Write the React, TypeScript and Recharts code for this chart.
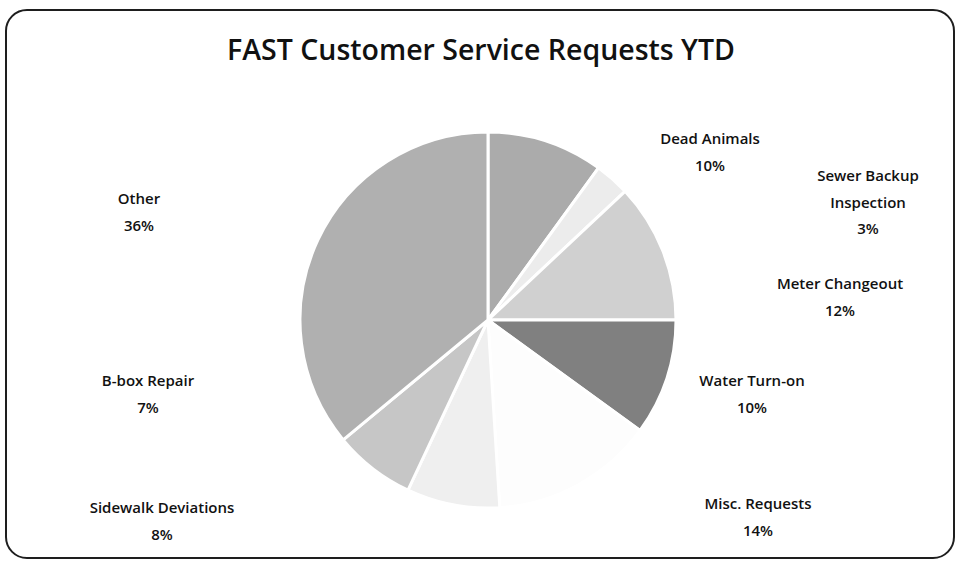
import { PieChart, Pie, Cell } from 'recharts';

const categories = [
  'Dead Animals',
  'Sewer Backup Inspection',
  'Meter Changeout',
  'Water Turn-on',
  'Misc. Requests',
  'Sidewalk Deviations',
  'B-box Repair',
  'Other',
];
const shares = [10, 3, 12, 10, 14, 8, 7, 36];

// label text split into lines (Excel wraps the long one)
const labelLines = [
  ['Dead Animals'],
  ['Sewer Backup', 'Inspection'],
  ['Meter Changeout'],
  ['Water Turn-on'],
  ['Misc. Requests'],
  ['Sidewalk Deviations'],
  ['B-box Repair'],
  ['Other'],
];

const fills = ['#ababab', '#ececec', '#d0d0d0', '#808080', '#fdfdfd', '#efefef', '#c6c6c6', '#b0b0b0'];
// label placement relative to pie centre (first line centre)
const labelOffsets = [
  [222, -182],
  [380, -145],
  [352, -37],
  [264, 60],
  [270, 183],
  [-326, 187],
  [-340, 60],
  [-349, -122],
];

const W = 959;
const H = 563;
const FONT = '"Open Sans", "DejaVu Sans", sans-serif';

const data = categories.map((name, i) => ({ name, value: shares[i] }));

function renderLabel(props: any) {
  const { cx, cy, index, value } = props;
  const [dx, dy] = labelOffsets[index];
  const lines = [...labelLines[index], `${value}%`];
  return (
    <text
      x={cx + dx}
      y={cy + dy + 6}
      textAnchor="middle"
      fill="#111"
      fontSize={15}
      fontWeight={600}
      fontFamily={FONT}
    >
      {lines.map((l, k) => (
        <tspan key={k} x={cx + dx} dy={k === 0 ? 0 : 26.5}>
          {l}
        </tspan>
      ))}
    </text>
  );
}

export default function App() {
  return (
    <div style={{ position: 'absolute', left: 0, top: 0, width: W, height: H, background: '#fff' }}>
      <div
        style={{
          position: 'absolute',
          left: 5,
          top: 9,
          width: 946,
          height: 546,
          border: '2px solid #1e1e1e',
          borderRadius: 22,
        }}
      />
      <PieChart
        width={W}
        height={H}
        margin={{ top: 0, right: 0, bottom: 0, left: 0 }}
        style={{ position: 'absolute', left: 0, top: 0 }}
      >
        <text x={481} y={60} textAnchor="middle" fontSize={28.5} fontWeight={600} fontFamily={FONT} fill="#111">
          FAST Customer Service Requests YTD
        </text>
        <Pie
          data={data}
          dataKey="value"
          nameKey="name"
          cx={488}
          cy={320}
          outerRadius={188}
          startAngle={90}
          endAngle={-270}
          stroke="#ffffff"
          strokeWidth={3}
          label={renderLabel}
          labelLine={false}
          isAnimationActive={false}
        >
          {data.map((d, i) => (
            <Cell key={d.name} fill={fills[i]} />
          ))}
        </Pie>
      </PieChart>
    </div>
  );
}
